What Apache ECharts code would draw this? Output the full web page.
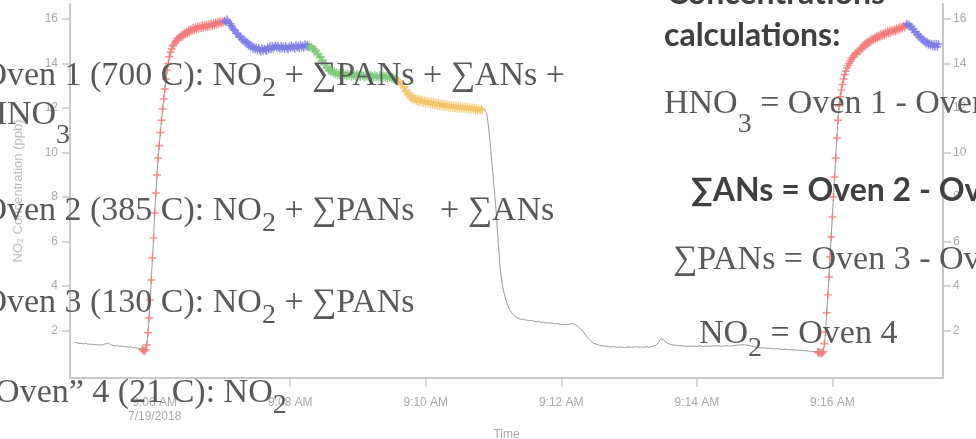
<!DOCTYPE html>
<html>
<head>
<meta charset="utf-8">
<script src="https://cdn.jsdelivr.net/npm/echarts@6/dist/echarts.min.js"></script>
<style>
  html, body { margin: 0; padding: 0; background: #ffffff; }
  #chart { width: 976px; height: 439px; }
</style>
</head>
<body>
<div id="chart"></div>
<script>
// NO2 readings (ppb) logged on 7/19/2018 while the inlet stepped through the ovens.
// Times are seconds after 09:00:00; each run has a first sample time and a fixed spacing.

// zero air before the first oven switch (grey)
const zeroStart = 289, zeroStep = 2;
const zeroNO2 = [1.44,1.46,1.42,1.43,1.40,1.42,1.38,1.39,1.36,1.38,1.35,1.36,1.34,1.38,1.41,
  1.43,1.36,1.33,1.31,1.32,1.28,1.30,1.27,1.26,1.25,1.27,1.22,1.23,1.20,1.18];

// Oven 1 rise and top (red)
const oven1RiseStart = 349, oven1RiseStep = 1;
const oven1RiseNO2 = [1.16,1.10,1.08,1.14,1.35,1.90,2.56,3.37,4.27,5.26,6.16,7.28,8.18,8.99,9.75,
  10.30,10.90,11.45,11.95,12.40,12.85,13.30,13.70,14.00,14.30,14.50,14.65,14.78,14.85,14.95];
const oven1TopStart = 379, oven1TopStep = 1;
const oven1TopNO2 = [15.02,15.12,15.05,15.20,15.16,15.28,15.22,15.36,15.30,15.42,15.35,15.50,15.40,
  15.53,15.46,15.60,15.50,15.62,15.54,15.66,15.56,15.68,15.58,15.70,15.60,15.72,15.62,15.74,15.64,
  15.76,15.67,15.78,15.68,15.80,15.72,15.84,15.74,15.86,15.77,15.88,15.80,15.90,15.84];

// Oven 2 (blue)
const oven2Start = 422, oven2Step = 1;
const oven2NO2 = [15.92,15.85,15.97,15.88,15.80,15.78,15.69,15.58,15.50,15.49,15.35,15.36,15.30,
  15.18,15.21,15.07,15.10,14.98,15.04,14.90,14.95,14.80,14.86,14.73,14.80,14.66,14.75,14.63,14.72,
  14.58,14.69,14.60,14.55,14.68,14.57,14.66,14.61,14.56,14.71,14.62,14.76,14.64,14.78,14.67,14.74,
  14.81,14.69,14.78,14.70,14.66,14.79,14.68,14.75,14.64,14.77,14.70,14.63,14.76,14.69,14.80,14.70,
  14.76,14.66,14.82,14.72,14.78,14.69,14.84,14.73,14.80,14.71,14.85,14.76,14.82,14.74];

// Oven 3 (green)
const oven3Start = 497, oven3Step = 1;
const oven3NO2 = [14.80,14.70,14.76,14.62,14.66,14.52,14.58,14.40,14.44,14.26,14.30,14.10,14.14,
  13.94,14.00,13.80,13.85,13.68,13.76,13.62,13.70,13.55,13.64,13.52,13.60,13.48,13.57,13.46,13.55,
  13.44,13.58,13.47,13.53,13.42,13.55,13.45,13.51,13.40,13.54,13.44,13.50,13.41,13.55,13.43,13.49,
  13.38,13.52,13.42,13.47,13.37,13.50,13.41,13.46,13.36,13.49,13.40,13.45,13.35,13.48,13.39,13.44,
  13.34,13.47,13.38,13.43,13.34,13.46,13.37,13.42,13.33,13.45,13.36,13.40,13.30,13.38,13.28,13.33,
  13.22];

// Oven 4 / ambient (yellow)
const oven4Start = 575, oven4Step = 1;
const oven4NO2 = [13.26,13.16,13.20,13.05,13.08,12.90,12.94,12.74,12.80,12.60,12.68,12.48,12.56,
  12.38,12.48,12.33,12.44,12.31,12.42,12.27,12.38,12.25,12.36,12.22,12.34,12.20,12.31,12.19,12.29,
  12.16,12.28,12.14,12.26,12.12,12.24,12.10,12.22,12.09,12.20,12.07,12.19,12.05,12.17,12.04,12.15,
  12.02,12.14,12.01,12.12,12.00,12.11,11.99,12.10,11.98,12.09,11.97,12.07,11.96,12.06,11.95,12.05,
  11.94,12.04,11.93,12.03,11.92,12.02,11.91,12.01,11.90,12.00,11.89,11.98,11.88,11.96,11.90];

// source removed, decay back to zero (grey)
const decayStart = 652, decayStep = 2;
const decayNO2 = [11.90,11.75,11.00,9.90,8.70,7.60,6.10,4.70,4.00,3.55,3.20,2.95,2.80,2.68,2.60,
  2.55,2.50,2.52,2.47,2.46,2.44,2.46,2.41,2.39,2.40,2.36,2.38,2.34,2.35,2.33,2.34,2.30,2.31,2.28,
  2.27,2.26,2.28,2.27,2.30,2.31,2.27,2.21,2.13,2.03,1.90,1.77,1.64,1.53,1.45,1.40,1.36,1.33,1.31,
  1.29,1.30,1.27,1.26,1.28,1.25,1.24,1.26,1.25,1.23,1.25,1.26,1.24,1.25,1.27,1.25,1.26,1.24,1.26,
  1.27,1.25,1.28,1.30,1.34,1.46,1.62,1.60,1.50,1.43,1.39,1.36,1.34,1.33,1.31,1.32,1.30,1.31,1.29,
  1.30,1.28,1.30,1.29,1.31,1.30,1.28,1.30,1.31,1.29,1.30,1.32,1.30,1.31,1.29,1.30,1.32,1.31,1.30,
  1.32,1.33,1.34,1.36,1.35,1.36,1.35,1.33,1.30,1.27,1.25,1.23,1.22,1.21,1.22,1.20,1.19,1.20,1.18,
  1.17,1.18,1.16,1.15,1.16,1.14,1.13,1.14,1.12,1.12,1.11,1.12,1.10,1.09,1.08,1.07,1.06,1.05,1.04];

// second Oven 1 rise (red) and Oven 2 (blue)
const oven1bRiseStart = 947, oven1bRiseStep = 1;
const oven1bRiseNO2 = [1.03,0.99,1.02,0.97,1.00,1.05,1.40,1.93,2.80,3.60,4.40,5.30,6.20,7.10,8.00,
  8.90,9.75,10.65,11.45,12.10,12.50,12.80,13.05,13.30,13.50,13.65,13.80,13.90,14.00,14.10,14.20,
  14.28,14.35,14.42];
const oven1bTopStart = 981, oven1bTopStep = 1;
const oven1bTopNO2 = [14.48,14.44,14.58,14.54,14.68,14.64,14.80,14.74,14.88,14.82,14.96,14.90,15.04,
  14.97,15.10,15.03,15.16,15.09,15.22,15.14,15.26,15.19,15.32,15.23,15.36,15.27,15.40,15.31,15.43,
  15.35,15.47,15.38,15.50,15.42,15.54,15.45,15.57,15.49,15.61,15.53,15.64,15.57,15.68,15.61,15.72];
const oven2bStart = 1026, oven2bStep = 1;
const oven2bNO2 = [15.78,15.70,15.76,15.64,15.66,15.52,15.54,15.40,15.42,15.28,15.31,15.18,15.20,
  15.07,15.10,14.98,15.02,14.90,14.96,14.84,14.92,14.80,14.88,14.76,14.86,14.76,14.88,14.75,14.86];

// axis ticks
const timeTickSeconds = [360, 480, 600, 720, 840, 960];
const timeTickLabels = ['9:06 AM\n7/19/2018', '9:08 AM', '9:10 AM', '9:12 AM', '9:14 AM', '9:16 AM'];
const no2Ticks = [2, 4, 6, 8, 10, 12, 14, 16];

const sampled = (start, step, values) => values.map((v, i) => [start + i * step, v]);

const zero = sampled(zeroStart, zeroStep, zeroNO2);
const oven1Rise = sampled(oven1RiseStart, oven1RiseStep, oven1RiseNO2);
const oven1Top = sampled(oven1TopStart, oven1TopStep, oven1TopNO2);
const oven2 = sampled(oven2Start, oven2Step, oven2NO2);
const oven3 = sampled(oven3Start, oven3Step, oven3NO2);
const oven4 = sampled(oven4Start, oven4Step, oven4NO2);
const decay = sampled(decayStart, decayStep, decayNO2);
const oven1bRise = sampled(oven1bRiseStart, oven1bRiseStep, oven1bRiseNO2);
const oven1bTop = sampled(oven1bTopStart, oven1bTopStep, oven1bTopNO2);
const oven2b = sampled(oven2bStart, oven2bStep, oven2bNO2);

const fullTrace = [].concat(zero, oven1Rise, oven1Top, oven2, oven3, oven4, decay,
  oven1bRise, oven1bTop, oven2b);

// small "+" marker
const PLUS = 'path://M0,4.1H4.1V0H5.9V4.1H10V5.9H5.9V10H4.1V5.9H0Z';
const markerSeries = (name, data, color) => ({
  name, type: 'scatter', data, symbol: PLUS, symbolSize: [8, 8], z: 3,
  itemStyle: { color, opacity: 0.85 }, silent: true
});

const axisGray = '#c8c8c8';
const labelGray = '#a9a9a9';
const SANS = '"Liberation Sans", Arial, sans-serif';
const SERIF = '"Liberation Serif", "Times New Roman", serif';
const ink = '#595959';
const boldInk = '#404040';

const serifRich = {
  m: { font: '34px ' + SERIF, fill: ink, lineHeight: 40 },
  s: { font: '28px ' + SERIF, fill: ink, height: 16, padding: [24, 0, 0, 0], verticalAlign: 'bottom' },
  u: { font: '28px ' + SERIF, fill: ink, height: 16, padding: [28, 0, 0, 0], verticalAlign: 'bottom' },
  t: { font: '28px ' + SERIF, fill: ink, height: 16, padding: [40, 0, 0, 0], verticalAlign: 'bottom' }
};
const boldRich = {
  b: { font: 'bold 32px Lato, "Open Sans", sans-serif', fill: boldInk, lineHeight: 40 }
};

// place a line of slide text by its left edge and baseline
function slideText(left, baseline, text, rich, lineBox, k, size) {
  return {
    type: 'text', x: left, y: baseline - lineBox / 2 - k * size, z: 100, silent: true,
    style: { text, rich, align: 'left', verticalAlign: 'top', textAlign: 'left', textVerticalAlign: 'top' }
  };
}
const KS = 0.34, KB = 0.36;

const texts = [
  slideText(-17.6, 88, '{m|Oven 1 (700 C): NO}{s|2}{m| + ∑PANs + ∑ANs +}', serifRich, 40, KS, 34),
  slideText(-17.6, 127, '{m|HNO}{t|3}', serifRich, 56, KS, 34),
  slideText(-17.6, 223, '{m|Oven 2 (385 C): NO}{s|2}{m| + ∑PANs   + ∑ANs}', serifRich, 40, KS, 34),
  slideText(-17.6, 315, '{m|Oven 3 (130 C): NO}{s|2}{m| + ∑PANs}', serifRich, 40, KS, 34),
  slideText(-20, 405, '{m|“Oven” 4 (21 C): NO}{s|2}', serifRich, 40, KS, 34),
  slideText(667, 5, '{b|Concentrations}', boldRich, 40, KB, 32),
  slideText(664, 47, '{b|calculations:}', boldRich, 40, KB, 32),
  slideText(664, 116, '{m|HNO}{t|3}{m| = Oven 1 - Oven 2}', serifRich, 56, KS, 34),
  slideText(691, 202, '{b|∑ANs = Oven 2 - Oven 3}', boldRich, 40, KB, 32),
  slideText(673, 272, '{m|∑PANs = Oven 3 - Oven 4}', serifRich, 40, KS, 34),
  slideText(699, 346, '{m|NO}{u|2}{m| = Oven 4}', serifRich, 44, KS, 34)
];

const yAxisBase = {
  type: 'value', min: -0.135, max: 16.67,
  axisLine: { show: true, onZero: false, lineStyle: { color: axisGray, width: 2 } },
  axisTick: { show: true, length: 8, customValues: no2Ticks, lineStyle: { color: axisGray, width: 1.5 } },
  axisLabel: { customValues: no2Ticks, color: labelGray, fontFamily: SANS, fontSize: 12 },
  splitLine: { show: false }
};

const chart = echarts.init(document.getElementById('chart'), null, { renderer: 'canvas' });
chart.setOption({
  animation: false,
  backgroundColor: '#ffffff',
  grid: { left: 70, right: 33, top: 4, bottom: 61, containLabel: false, outerBoundsMode: 'none' },
  xAxis: {
    type: 'value', min: 285, max: 1058,
    axisLine: { show: true, onZero: false, lineStyle: { color: axisGray, width: 2 } },
    axisTick: { show: true, length: 9, customValues: timeTickSeconds, lineStyle: { color: axisGray, width: 1.5 } },
    axisLabel: {
      customValues: timeTickSeconds, color: labelGray, fontFamily: SANS, fontSize: 12,
      margin: 18, lineHeight: 14,
      formatter: v => { const i = timeTickSeconds.indexOf(v); return i < 0 ? '' : timeTickLabels[i]; }
    },
    splitLine: { show: false },
    name: 'Time', nameLocation: 'middle', nameGap: 48,
    nameTextStyle: { color: labelGray, fontFamily: SANS, fontSize: 12 }
  },
  yAxis: [
    Object.assign({}, yAxisBase, {
      position: 'left',
      axisLabel: Object.assign({}, yAxisBase.axisLabel, { margin: 12 }),
      name: '{n|NO}{s|2}{n| Concentration (ppb)}', nameLocation: 'middle', nameGap: 45,
      nameTextStyle: {
        rich: {
          n: { color: '#bdbdbd', fontFamily: SANS, fontSize: 13 },
          s: { color: '#bdbdbd', fontFamily: SANS, fontSize: 9, verticalAlign: 'bottom', lineHeight: 10 }
        }
      }
    }),
    Object.assign({}, yAxisBase, {
      position: 'right',
      axisLabel: Object.assign({}, yAxisBase.axisLabel, { margin: 10 })
    })
  ],
  series: [
    {
      name: 'NO2', type: 'line', data: fullTrace, showSymbol: false, symbol: 'none', z: 2,
      lineStyle: { color: '#9a9a9a', width: 1 }, silent: true
    },
    markerSeries('Oven 1', [].concat(oven1Rise, oven1Top, oven1bRise, oven1bTop), '#f47a7a'),
    markerSeries('Oven 2', [].concat(oven2, oven2b), '#7c7ce8'),
    markerSeries('Oven 3', oven3, '#7ccb7a'),
    markerSeries('Oven 4', oven4, '#f6c66c')
  ],
  graphic: texts
});
</script>
</body>
</html>
